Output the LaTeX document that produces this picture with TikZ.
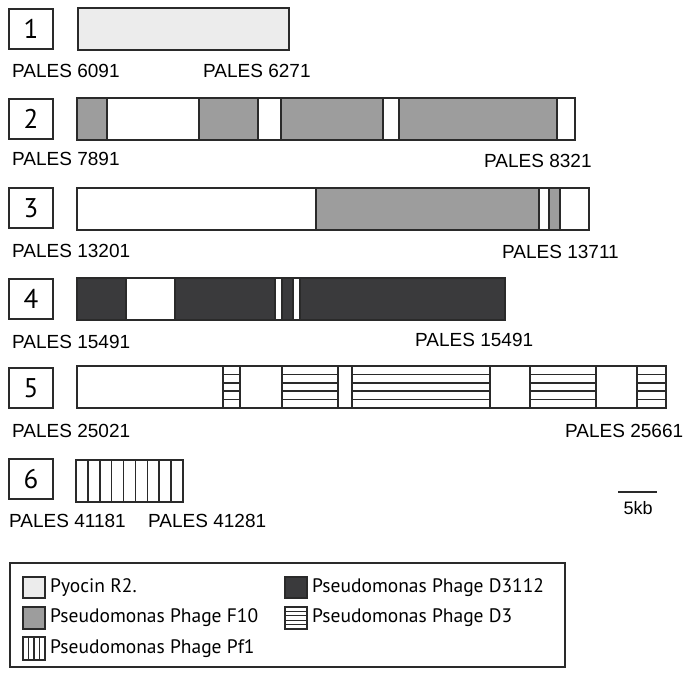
\documentclass[tikz,border=0pt]{standalone}
\usepackage{fontspec}
\setmainfont{Liberation Sans}
\newfontfamily\legfont{PT Sans}
\definecolor{pyo}{HTML}{ECECEC}
\definecolor{ften}{HTML}{9D9D9D}
\definecolor{dthree}{HTML}{3A3A3C}
\definecolor{edge}{HTML}{2A2A2A}
\tikzset{
  x=1pt,y=-1pt,
  numbox/.style={draw=edge,line width=1.8pt,fill=white,minimum width=44pt,minimum height=40pt,inner sep=0pt,font=\legfont\fontsize{27}{27}\selectfont},
  pales/.style={anchor=base west,inner sep=0pt,font=\fontsize{19}{20}\selectfont,text=black},
  segline/.style={draw=edge,line width=2pt},
  hatchline/.style={draw=edge,line width=1.6pt},
  legtext/.style={anchor=west,inner sep=0pt,font=\legfont\fontsize{19.5}{20}\selectfont,text=black},
}
% \segm{x1}{x2}{top}{fill}
\newcommand{\segm}[4]{\filldraw[segline,fill=#4] (#1,#3) rectangle (#2,#3+42);}
% horizontal hatch
\newcommand{\hseg}[3]{\filldraw[segline,fill=white] (#1,#3) rectangle (#2,#3+42);
  \foreach \k in {1,...,4}{\draw[hatchline] (#1,#3+8.4*\k) -- (#2,#3+8.4*\k);}}
\begin{document}
\begin{tikzpicture}
\useasboundingbox (0,0) rectangle (687,675);
% ---------- row 1
\node[numbox] (n1) at (31,29) {1};
\segm{78}{289}{8}{pyo}
\node[pales] (l1a) at (12,77) {PALES 6091};
\node[pales] (l1b) at (203,77) {PALES 6271};
% ---------- row 2
\node[numbox] (n2) at (31,119) {2};
\segm{77}{107}{98}{ften}
\segm{107}{199}{98}{white}
\segm{199}{258}{98}{ften}
\segm{258}{281}{98}{white}
\segm{281}{383}{98}{ften}
\segm{383}{399}{98}{white}
\segm{399}{557}{98}{ften}
\segm{557}{575}{98}{white}
\node[pales] (l2a) at (12,165) {PALES 7891};
\node[pales] (l2b) at (484,167) {PALES 8321};
% ---------- row 3
\node[numbox] (n3) at (31,208) {3};
\segm{77}{316}{188}{white}
\segm{316}{539}{188}{ften}
\segm{539}{549}{188}{white}
\segm{549}{560}{188}{ften}
\segm{560}{589}{188}{white}
\node[pales] (l3a) at (12,257) {PALES 13201};
\node[pales] (l3b) at (502,258) {PALES 13711};
% ---------- row 4
\node[numbox] (n4) at (31,299) {4};
\segm{77}{126}{278}{dthree}
\segm{126}{175}{278}{white}
\segm{175}{275}{278}{dthree}
\segm{275}{282}{278}{white}
\segm{282}{293}{278}{dthree}
\segm{293}{300}{278}{white}
\segm{300}{505}{278}{dthree}
\node[pales] (l4a) at (12,348) {PALES 15491};
\node[pales] (l4b) at (415,346) {PALES 15491};
% ---------- row 5
\node[numbox] (n5) at (31,388) {5};
\segm{77}{223}{366}{white}
\hseg{223}{240}{366}
\segm{240}{282}{366}{white}
\hseg{282}{338}{366}
\segm{338}{352}{366}{white}
\hseg{352}{490}{366}
\segm{490}{530}{366}{white}
\hseg{530}{596}{366}
\segm{596}{637}{366}{white}
\hseg{637}{666}{366}
\node[pales] (l5a) at (12,437) {PALES 25021};
\node[pales] (l5b) at (565,437) {PALES 25661};
% ---------- row 6
\node[numbox] (n6) at (31,479) {6};
\filldraw[segline,fill=white] (76,460) rectangle (183,502);
\foreach \k in {1,...,8}{\draw[hatchline] (76+11.89*\k,460) -- (76+11.89*\k,502);}
\node[pales] (l6a) at (9,527) {PALES 41181};
\node[pales] (l6b) at (148,527) {PALES 41281};
% ---------- scale bar
\coordinate (sb1) at (618,492);
\coordinate (sb2) at (657,492);
\draw[edge,line width=2pt] (sb1) -- (sb2);
\node[anchor=base,inner sep=0pt,font=\fontsize{18}{20}\selectfont] (sbl) at (638,514) {5kb};
% ---------- legend
\draw[edge,line width=1.8pt] (10,563) rectangle (565,667);
\filldraw[draw=edge,line width=1.5pt,fill=pyo] (23,577) rectangle (45,598);
\node[legtext] (lg1) at (50,588) {Pyocin R2.};
\filldraw[draw=edge,line width=1.5pt,fill=ften] (23,607) rectangle (45,629);
\node[legtext] (lg2) at (50,618) {Pseudomonas Phage F10};
\filldraw[draw=edge,line width=1.5pt,fill=white] (23,637) rectangle (45,660);
\foreach \k in {1,...,3}{\draw[edge,line width=1.3pt] (23+5.5*\k,637) -- (23+5.5*\k,660);}
\node[legtext] (lg3) at (50,649) {Pseudomonas Phage Pf1};
\filldraw[draw=edge,line width=1.5pt,fill=dthree] (285,577) rectangle (307,598);
\node[legtext] (lg4) at (312,588) {Pseudomonas Phage D3112};
\filldraw[draw=edge,line width=1.5pt,fill=white] (285,607) rectangle (307,629);
\foreach \k in {1,...,4}{\draw[edge,line width=1.1pt] (285,607+4.4*\k) -- (307,607+4.4*\k);}
\node[legtext] (lg5) at (312,618) {Pseudomonas Phage D3};
\end{tikzpicture}
\end{document}
